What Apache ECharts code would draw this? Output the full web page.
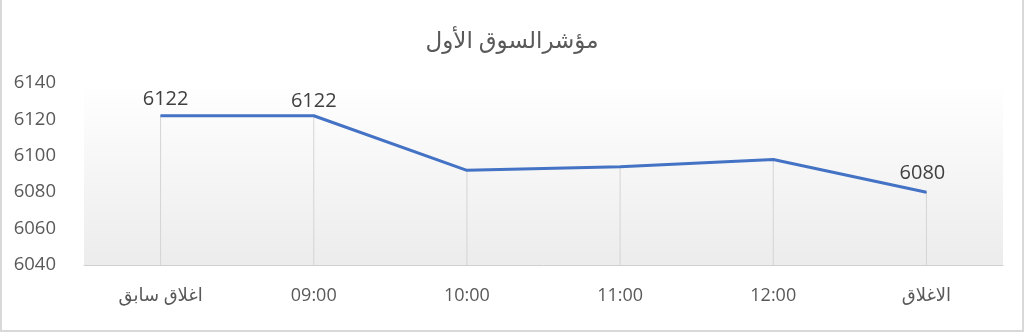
<!DOCTYPE html>
<html>
<head>
<meta charset="utf-8">
<script src="https://cdn.jsdelivr.net/npm/echarts@6/dist/echarts.min.js"></script>
<style>
html,body{margin:0;padding:0;background:#fff;}
#wrap{position:absolute;left:0;top:0;width:1020px;height:330px;border-left:2px solid #d9d9d9;border-right:2px solid #d9d9d9;border-bottom:2px solid #d9d9d9;background:#fff;}
#chart{width:1020px;height:330px;}
</style>
</head>
<body>
<div id="wrap"><div id="chart"></div></div>
<script>
const titleText = 'مؤشرالسوق الأول';
const categories = ['اغلاق سابق', '09:00', '10:00', '11:00', '12:00', 'الاغلاق'];
const values = [6122, 6122, 6092, 6094, 6098, 6080];
const labelShown = [true, true, false, false, false, true];
const yMin = 6040, yMax = 6140, yStep = 20;

const font = '"Open Sans", "DejaVu Sans", sans-serif';
const labelOffsets = [[5, 0], [0, 2], [0, 0], [0, 0], [0, 0], [-4, -2]];

const chart = echarts.init(document.getElementById('chart'), null, {renderer: 'canvas'});
chart.setOption({
  animation: false,
  backgroundColor: '#fff',
  title: {
    text: titleText,
    left: 'center',
    top: 25,
    textStyle: {color: '#595959', fontSize: 23, fontWeight: 'normal', fontFamily: font}
  },
  grid: {
    left: 82, right: 19, top: 83, bottom: 65,
    show: true,
    borderWidth: 0,
    backgroundColor: new echarts.graphic.LinearGradient(0, 0, 0, 1, [
      {offset: 0, color: '#ffffff'},
      {offset: 1, color: '#ececec'}
    ])
  },
  xAxis: {
    type: 'category',
    data: categories,
    boundaryGap: true,
    axisLine: {show: true, lineStyle: {color: '#d0d0d0', width: 1}},
    axisTick: {show: false},
    axisLabel: {color: '#595959', fontSize: 18, fontFamily: font, margin: 22}
  },
  yAxis: {
    type: 'value',
    min: yMin, max: yMax, interval: yStep,
    axisLine: {show: false},
    axisTick: {show: false},
    splitLine: {show: false},
    axisLabel: {color: '#595959', fontSize: 18.5, fontFamily: font, margin: 28, formatter: v => String(v)}
  },
  series: [
    {
      type: 'bar',
      data: values,
      barWidth: 1,
      itemStyle: {color: '#d4d4d4'},
      silent: true,
      z: 1
    },
    {
      type: 'line',
      data: values.map((v, i) => ({
        value: v,
        label: {show: labelShown[i], offset: labelOffsets[i]}
      })),
      symbol: 'circle',
      symbolSize: 1,
      showSymbol: true,
      lineStyle: {color: '#4472C4', width: 3},
      itemStyle: {color: '#4472C4'},
      label: {
        position: 'top',
        distance: 6,
        color: '#404040',
        fontSize: 20,
        fontFamily: font
      },
      z: 3
    }
  ]
});
</script>
</body>
</html>
